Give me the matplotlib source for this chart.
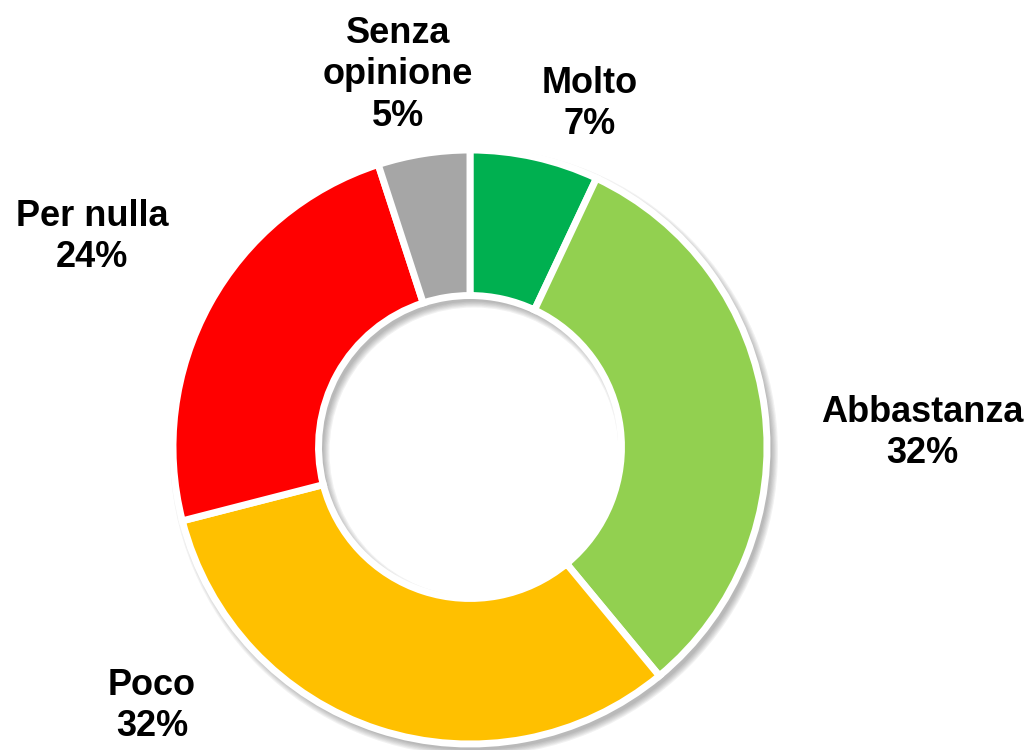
import matplotlib.pyplot as plt
from matplotlib.patches import Wedge

labels = ['Molto', 'Abbastanza', 'Poco', 'Per nulla', 'Senza opinione']
values = [7, 32, 32, 24, 5]
colors = ['#00B050', '#92D050', '#FFC000', '#FF0000', '#A6A6A6']
text_lines = ['Molto\n7%', 'Abbastanza\n32%', 'Poco\n32%', 'Per nulla\n24%', 'Senza\nopinione\n5%']

plt.rcParams['font.family'] = ['Liberation Sans', 'DejaVu Sans']

fig = plt.figure(figsize=(10.28, 7.5), dpi=100)
ax = fig.add_axes([0, 0, 1, 1])

cx, cy, r = 470, 303, 297
w = r * 0.49

# soft shadow behind the ring (several faint layers)
for k in range(6):
    grow = 1.0 + k * 1.2
    sh = Wedge((cx + 4, cy - 5), r + grow, 0, 360, width=w + 2 * grow,
               facecolor='#404040', edgecolor='none', alpha=0.07)
    ax.add_patch(sh)

ax.pie(values, colors=colors, startangle=90, counterclock=False,
       center=(cx, cy), radius=r, frame=True,
       wedgeprops=dict(width=w, edgecolor='white', linewidth=5))
ax.set_xlim(0, 1028)
ax.set_ylim(0, 750)
ax.set_aspect('equal')
ax.axis('off')

# label positions (pixel coords, y from bottom)
pos = [(590, 646), (922, 317), (152, 44), (92, 513), (398, 675)]
for (x, y), t in zip(pos, text_lines):
    ax.text(x, y, t, ha='center', va='center', fontsize=26, fontweight='bold',
            linespacing=1.25, color='black')

fig.savefig('out.png', dpi=100)
